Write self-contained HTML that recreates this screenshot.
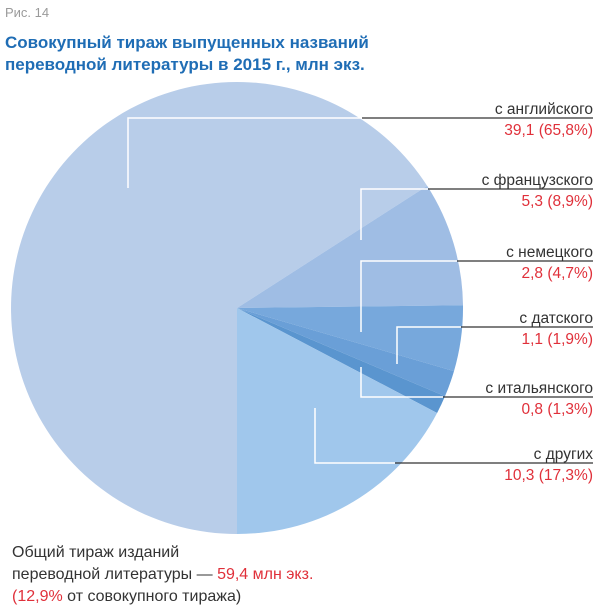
<!DOCTYPE html>
<html><head><meta charset="utf-8"><style>
body{margin:0;background:#fff;}
svg{display:block;font-family:"Liberation Sans","DejaVu Sans",sans-serif;}
</style></head><body>
<svg width="600" height="608" viewBox="0 0 600 608">
<text x="5" y="17" font-size="13" fill="#9a9a9a">Рис. 14</text>
<text x="5" y="48" font-size="17" font-weight="bold" fill="#1f6db5">Совокупный тираж выпущенных названий</text>
<text x="5" y="70" font-size="17" font-weight="bold" fill="#1f6db5">переводной литературы в 2015 г., млн экз.</text>
<g stroke="none">
<path d="M237,308 L237,534 A226,226 0 1 1 427.2,185.9 Z" fill="#b8cde9"/>
<path d="M237,308 L427.2,185.9 A226,226 0 0 1 463,305.2 Z" fill="#9fbde4"/>
<path d="M237,308 L463,305.2 A226,226 0 0 1 454,371.1 Z" fill="#77a8dc"/>
<path d="M237,308 L454,371.1 A226,226 0 0 1 445,396.3 Z" fill="#6a9fd7"/>
<path d="M237,308 L445,396.3 A226,226 0 0 1 437.1,413 Z" fill="#5a95cf"/>
<path d="M237,308 L437.1,413 A226,226 0 0 1 237,534 Z" fill="#a0c7ec"/>
</g>
<g fill="none" stroke="#fff" stroke-width="1.5">
<polyline points="128,188 128,118 362,118"/>
<polyline points="361,240 361,189 428,189"/>
<polyline points="361,332 361,261 457,261"/>
<polyline points="397,364 397,327 461,327"/>
<polyline points="361,367 361,397 443,397"/>
<polyline points="315,408 315,463 395,463"/>
</g>
<g stroke="#333" stroke-width="1.3">
<line x1="362" y1="118" x2="593" y2="118"/>
<line x1="428" y1="189" x2="593" y2="189"/>
<line x1="457" y1="261" x2="593" y2="261"/>
<line x1="461" y1="327" x2="593" y2="327"/>
<line x1="443" y1="397" x2="593" y2="397"/>
<line x1="395" y1="463" x2="593" y2="463"/>
</g>
<g font-size="15.5" text-anchor="end">
<text x="593" y="114" fill="#333">с английского</text>
<text x="593" y="135" fill="#e0303a">39,1 (65,8%)</text>
<text x="593" y="185" fill="#333">с французского</text>
<text x="593" y="206" fill="#e0303a">5,3 (8,9%)</text>
<text x="593" y="257" fill="#333">с немецкого</text>
<text x="593" y="278" fill="#e0303a">2,8 (4,7%)</text>
<text x="593" y="323" fill="#333">с датского</text>
<text x="593" y="344" fill="#e0303a">1,1 (1,9%)</text>
<text x="593" y="393" fill="#333">с итальянского</text>
<text x="593" y="414" fill="#e0303a">0,8 (1,3%)</text>
<text x="593" y="459" fill="#333">с других</text>
<text x="593" y="480" fill="#e0303a">10,3 (17,3%)</text>
</g>
<g font-size="16">
<text x="12" y="557" fill="#333">Общий тираж изданий</text>
<text x="12" y="579" fill="#333">переводной литературы — <tspan fill="#e0303a">59,4 млн экз.</tspan></text>
<text x="12" y="601" fill="#333"><tspan fill="#e0303a">(12,9%</tspan> от совокупного тиража)</text>
</g>
</svg>
</body></html>
